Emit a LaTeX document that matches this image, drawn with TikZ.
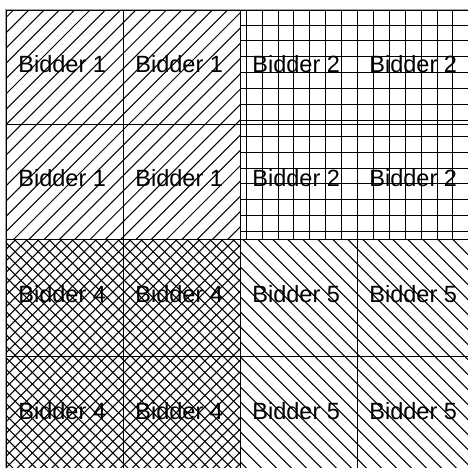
\documentclass[tikz,border=0pt]{standalone}
\usepackage{fontspec}
\setmainfont{Liberation Sans}
\usetikzlibrary{positioning}

\begin{document}
\begin{tikzpicture}[
  x=1pt, y=-1pt,
  font=\fontsize{23.5}{26}\selectfont,
  cell/.style={draw, line width=1pt, outer sep=0pt, inner sep=0pt, minimum width=117pt},
  rowone/.style={cell, minimum height=114pt},
  rowtwo/.style={cell, minimum height=115pt},
  rowrest/.style={cell, minimum height=117pt},
  hatch/.style={line width=1pt},
  gridhatch/.style={line width=1.2pt},
  bidtext/.style={inner sep=0pt, xshift=-2.8pt, yshift=3.5pt},
]
  \useasboundingbox (0,0) rectangle (468,468);
  \fill[white] (0,0) rectangle (468,468);
  \clip (0,0) rectangle (468,468);

  % frame
  \draw[black!35, line width=1pt] (5.5,468) -- (5.5,9.5) -- (468,9.5);

  % cells
  \node[rowone, anchor=north west] (c11) at (6.5,10.5) {};
  \node[rowone, right=0pt of c11] (c12) {};
  \node[rowone, right=0pt of c12] (c13) {};
  \node[rowone, right=0pt of c13] (c14) {};
  \node[rowtwo, below=0pt of c11] (c21) {};
  \node[rowtwo, right=0pt of c21] (c22) {};
  \node[rowtwo, right=0pt of c22] (c23) {};
  \node[rowtwo, right=0pt of c23] (c24) {};
  \node[rowrest, below=0pt of c21] (c31) {};
  \node[rowrest, right=0pt of c31] (c32) {};
  \node[rowrest, right=0pt of c32] (c33) {};
  \node[rowrest, right=0pt of c33] (c34) {};
  \node[rowrest, below=0pt of c31] (c41) {};
  \node[rowrest, right=0pt of c41] (c42) {};
  \node[rowrest, right=0pt of c42] (c43) {};
  \node[rowrest, right=0pt of c43] (c44) {};

  % bidder 1: north east lines
  \begin{scope}
    \clip (c11.north west) rectangle (c22.south east);
    \foreach \k in {0,...,33}
      \draw[hatch] ({23.5+15.3*\k-500},500) -- ({23.5+15.3*\k},0);
  \end{scope}

  % bidder 2: grid
  \begin{scope}
    \clip (c13.north west) rectangle (c24.south east);
    \foreach \k in {0,...,14}
      \draw[gridhatch] ({floor(246.3+15.9*\k)+0.5},0) -- ++(0,260);
    \foreach \k in {-1,...,14}
      \draw[gridhatch] (230,{floor(25+15.9*\k)+0.5}) -- ++(250,0);
  \end{scope}

  % bidder 4: cross hatch
  \begin{scope}
    \clip (c31.north west) rectangle (c42.south east);
    \foreach \k in {20,...,63}
      \draw[hatch] ({2.3+11.5*\k-500},500) -- ({2.3+11.5*\k},0);
    \foreach \k in {-42,...,1}
      \draw[hatch] ({4.8+11.5*\k},0) -- ({4.8+11.5*\k+500},500);
  \end{scope}

  % bidder 5: north west lines
  \begin{scope}
    \clip (c33.north west) rectangle (c44.south east);
    \foreach \k in {-17,...,16}
      \draw[hatch] ({3.3+15*\k},0) -- ({3.3+15*\k+500},500);
  \end{scope}

  % labels
  \node[bidtext] (t11) at (c11) {Bidder 1};
  \node[bidtext] (t12) at (c12) {Bidder 1};
  \node[bidtext] (t13) at (c13) {Bidder 2};
  \node[bidtext] (t14) at (c14) {Bidder 2};
  \node[bidtext] (t21) at (c21) {Bidder 1};
  \node[bidtext] (t22) at (c22) {Bidder 1};
  \node[bidtext] (t23) at (c23) {Bidder 2};
  \node[bidtext] (t24) at (c24) {Bidder 2};
  \node[bidtext] (t31) at (c31) {Bidder 4};
  \node[bidtext] (t32) at (c32) {Bidder 4};
  \node[bidtext] (t33) at (c33) {Bidder 5};
  \node[bidtext] (t34) at (c34) {Bidder 5};
  \node[bidtext] (t41) at (c41) {Bidder 4};
  \node[bidtext] (t42) at (c42) {Bidder 4};
  \node[bidtext] (t43) at (c43) {Bidder 5};
  \node[bidtext] (t44) at (c44) {Bidder 5};
\end{tikzpicture}
\end{document}
